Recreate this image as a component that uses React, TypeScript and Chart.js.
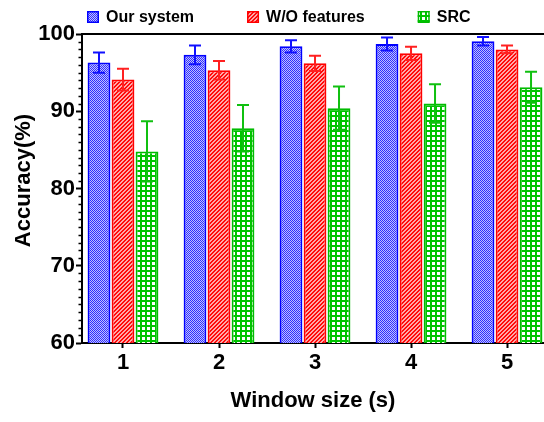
import React, { useEffect, useRef } from "react";
import { Chart, registerables } from "chart.js";

Chart.register(...registerables);

const categories = [1, 2, 3, 4, 5];
const seriesNames = ["Our system", "W/O features", "SRC"];
const ourSystem = [96.3, 97.3, 98.4, 98.7, 99.05];
const ourSystemErr = [1.3, 1.2, 0.8, 0.85, 0.55];
const woFeatures = [94.1, 95.3, 96.2, 97.5, 98.0];
const woFeaturesErr = [1.4, 1.2, 1.0, 0.85, 0.5];
const src = [84.8, 87.8, 90.4, 91.0, 93.1];
const srcErr = [3.9, 3.0, 2.8, 2.5, 2.0];
const yTicks = [60, 70, 80, 90, 100];

const FONT = "Arial, 'Liberation Sans', sans-serif";

function makePattern(kind: string): CanvasPattern | string {
  const c = document.createElement("canvas");
  const ctx = c.getContext("2d")!;
  if (kind === "blue") {
    c.width = 2; c.height = 2;
    ctx.fillStyle = "#c0c0ff"; ctx.fillRect(0, 0, 2, 2);
    ctx.fillStyle = "#3030ff"; ctx.fillRect(0, 0, 1, 1); ctx.fillRect(1, 1, 1, 1);
  } else if (kind === "red") {
    c.width = 4; c.height = 4;
    ctx.fillStyle = "#ffa8a8"; ctx.fillRect(0, 0, 4, 4);
    ctx.fillStyle = "#ff0a0a";
    for (let y = 0; y < 4; y++) for (let x = 0; x < 4; x++) {
      const d = (x + y) % 4;
      if (d === 0 || d === 1) ctx.fillRect(x, y, 1, 1);
    }
  } else {
    c.width = 5; c.height = 5;
    ctx.fillStyle = "#ffffff"; ctx.fillRect(0, 0, 5, 5);
    ctx.fillStyle = "#00c400";
    ctx.fillRect(0, 0, 5, 2); ctx.fillRect(0, 0, 2, 5);
  }
  return ctx.createPattern(c, "repeat")!;
}

export default function App() {
  const ref = useRef<HTMLCanvasElement>(null);
  useEffect(() => {
    const canvas = ref.current!;
    const bgs = [makePattern("blue"), makePattern("red"), makePattern("green")];
    const borders = ["#0000ff", "#ff0000", "#00bb00"];
    const errColors = ["#1010ff", "#ff2020", "#10c010"];
    const values = [ourSystem, woFeatures, src];
    const errs = [ourSystemErr, woFeaturesErr, srcErr];

    const errorBars = {
      id: "errorBars",
      afterDatasetsDraw(chart: any) {
        const ctx = chart.ctx;
        const ys = chart.scales.y;
        ctx.save();
        values.forEach((vals, i) => {
          const meta = chart.getDatasetMeta(i);
          meta.data.forEach((el: any, j: number) => {
            const top = ys.getPixelForValue(vals[j] + errs[i][j]);
            const bot = ys.getPixelForValue(vals[j] - errs[i][j]);
            ctx.strokeStyle = errColors[i];
            ctx.lineWidth = 2;
            ctx.beginPath();
            ctx.moveTo(el.x, top); ctx.lineTo(el.x, bot);
            ctx.moveTo(el.x - 6, top); ctx.lineTo(el.x + 6, top);
            ctx.moveTo(el.x - 6, bot); ctx.lineTo(el.x + 6, bot);
            ctx.stroke();
          });
        });
        ctx.restore();
      },
    };

    const frame = {
      id: "frame",
      afterDraw(chart: any) {
        const ctx = chart.ctx;
        const a = chart.chartArea;
        const ys = chart.scales.y;
        ctx.save();
        ctx.strokeStyle = "#000";
        ctx.lineWidth = 2;
        ctx.beginPath();
        ctx.moveTo(a.left - 1, a.top); ctx.lineTo(a.right, a.top);
        ctx.stroke();
        ctx.lineWidth = 1.5;
        ctx.beginPath();
        for (let v = 60; v <= 100; v++) {
          if (v % 10 === 0) continue;
          const y = Math.round(ys.getPixelForValue(v)) + 0.5;
          ctx.moveTo(a.left - 3.5, y); ctx.lineTo(a.left, y);
        }
        ctx.stroke();
        ctx.fillStyle = "#000";
        ctx.font = `bold 22px ${FONT}`;
        ctx.textAlign = "center";
        ctx.textBaseline = "middle";
        ctx.translate(24, (a.top + a.bottom) / 2 - 8);
        ctx.rotate(-Math.PI / 2);
        ctx.fillText("Accuracy(%)", 0, 0);
        ctx.restore();
        ctx.save();
        ctx.font = `bold 16px ${FONT}`;
        ctx.textBaseline = "middle";
        ctx.textAlign = "left";
        let x = a.left + 5;
        const cy = 17;
        seriesNames.forEach((name, i) => {
          ctx.fillStyle = bgs[i] as any;
          ctx.fillRect(x, cy - 6, 12, 12);
          ctx.strokeStyle = borders[i];
          ctx.lineWidth = 1.5;
          ctx.strokeRect(x + 0.75, cy - 5.25, 10.5, 10.5);
          ctx.fillStyle = "#000";
          ctx.fillText(name, x + 19, cy + 1);
          x += 19 + ctx.measureText(name).width + 53;
        });
        ctx.restore();
      },
    };

    const chart = new Chart(canvas, {
      type: "bar",
      data: {
        datasets: seriesNames.map((name, i) => ({
          label: name,
          data: categories.map((c, j) => ({ x: c, y: values[i][j] })),
          backgroundColor: bgs[i] as any,
          borderColor: borders[i],
          borderWidth: 2,
          categoryPercentage: 0.75,
          barPercentage: 0.95,
        })),
      },
      options: {
        responsive: false,
        animation: false,
        layout: { padding: { top: 34, right: 0, left: 0, bottom: 0 } },
        plugins: { legend: { display: false }, tooltip: { enabled: false } },
        scales: {
          x: {
            type: "linear",
            offset: false,
            min: 0.573,
            max: 5.385,
            afterBuildTicks: (s: any) => { s.ticks = categories.map((v) => ({ value: v })); },
            afterFit: (s: any) => { s.height = 79; },
            ticks: {
              color: "#000",
              font: { family: FONT, size: 22, weight: "bold" },
              padding: 2,
              maxRotation: 0,
              callback: (v: any) => String(v),
            },
            grid: { offset: false, drawOnChartArea: false, tickLength: 5, tickColor: "#000", tickWidth: 2 },
            border: { color: "#000", width: 2 },
            title: {
              display: true,
              text: "Window size (s)",
              color: "#000",
              font: { family: FONT, size: 22, weight: "bold" },
              padding: { top: 0, bottom: 8 },
            },
          },
          y: {
            min: 60,
            max: 100,
            afterBuildTicks: (s: any) => { s.ticks = yTicks.map((v) => ({ value: v })); },
            afterFit: (s: any) => { s.width = 82; },
            ticks: {
              color: "#000",
              font: { family: FONT, size: 22, weight: "bold" },
              padding: 1,
            },
            grid: { drawOnChartArea: false, tickLength: 6, tickColor: "#000", tickWidth: 2 },
            border: { color: "#000", width: 2 },
          },
        },
      },
      plugins: [errorBars, frame],
    });
    return () => chart.destroy();
  }, []);
  return (
    <div style={{ position: "absolute", left: 0, top: 0, width: 544, height: 422, background: "#fff" }}>
      <canvas ref={ref} width={544} height={422} />
    </div>
  );
}
